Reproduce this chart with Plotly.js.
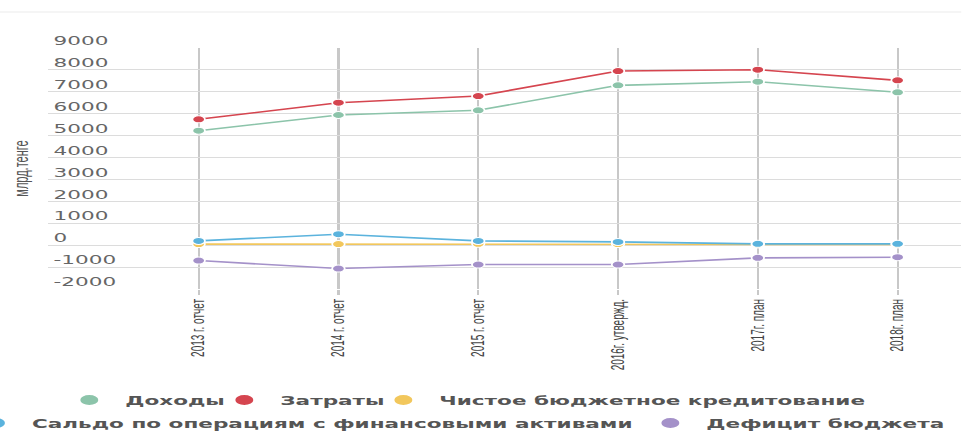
<!DOCTYPE html>
<html>
<head>
<meta charset="utf-8">
<script src="https://cdn.plot.ly/plotly-3.0.1.min.js"></script>
<style>
  html, body { margin: 0; padding: 0; background: #fff; overflow: hidden; }
  #wrap { width: 962px; height: 432px; overflow: hidden; position: relative; }
  #chart { position: absolute; left: -39.56px; top: 0; width: 557px; height: 432px;
           transform: scaleX(1.798); transform-origin: 0 0; }
</style>
</head>
<body>
<div id="wrap"><div id="chart"></div></div>
<script>
// ---- data ----
const categories = ["2013 г. отчет", "2014 г. отчет", "2015 г. отчет", "2016г. утвержд.", "2017г. план", "2018г. план"];
const incomes   = [5226, 5942, 6156, 7296, 7460, 6977];     // Доходы
const expenses  = [5745, 6503, 6808, 7948, 8008, 7524];     // Затраты
const lending   = [50, 50, 60, 50, 30, 30];                 // Чистое бюджетное кредитование
const finAssets = [196, 500, 196, 150, 60, 60];             // Сальдо по операциям с финансовыми активами
const deficit   = [-701, -1066, -883, -883, -579, -548];    // Дефицит бюджета

const seriesNames = ["Доходы", "Затраты", "Чистое бюджетное кредитование",
                     "Сальдо по операциям с финансовыми активами", "Дефицит бюджета"];
const seriesColors = ["#8cc4aa", "#d5454f", "#f2c75c", "#5bb3dd", "#a491c9"];
const seriesLegend = ["legend", "legend2", "legend3", "legend4", "legend5"];
const seriesValues = [incomes, expenses, lending, finAssets, deficit];

const yTickVals = [-2000, -1000, 0, 1000, 2000, 3000, 4000, 5000, 6000, 7000, 8000, 9000];
const yTickText = ["-2000", "-1000", "0", "1000", "2000", "3000", "4000", "5000", "6000", "7000", "8000", "9000"];

// ---- traces ----
const traces = [];
seriesValues.forEach((vals, i) => {
  traces.push({
    type: "scatter", mode: "lines", x: categories, y: vals,
    line: { color: seriesColors[i], width: 1.6 },
    showlegend: false, hoverinfo: "skip", legendgroup: "g" + i
  });
});
seriesValues.forEach((vals, i) => {
  traces.push({
    type: "scatter", mode: "markers", x: categories, y: vals,
    name: seriesNames[i],
    legend: seriesLegend[i], legendgroup: "g" + i,
    marker: { color: seriesColors[i], size: 7, line: { color: "#ffffff", width: 1 } }
  });
});

const legendFont = { family: "DejaVu Sans, sans-serif", size: 12, color: "#555", weight: "bold" };
function legendAt(x, y) {
  return {
    orientation: "h", xref: "container", yref: "container",
    x: x, xanchor: "left", y: y, yanchor: "middle",
    font: legendFont, itemsizing: "constant", bgcolor: "rgba(0,0,0,0)", itemwidth: 30
  };
}

const layout = {
  width: 557, height: 432,
  margin: { l: 49, r: 0, t: 48, b: 143 },
  paper_bgcolor: "#ffffff", plot_bgcolor: "#ffffff",
  xaxis: {
    type: "category",
    range: [-1.077, 5.457],
    showgrid: true, gridcolor: "#c8c8c8", gridwidth: 1.2,
    ticks: "outside", ticklen: 5, tickcolor: "#c8c8c8", tickwidth: 1.2,
    tickangle: -90,
    tickfont: { family: "Liberation Sans, Arial, sans-serif", size: 10, color: "#444" },
    showline: false, zeroline: false, fixedrange: true
  },
  yaxis: {
    range: [-2000, 9000],
    tickvals: yTickVals, ticktext: yTickText,
    showgrid: true, gridcolor: "#dcdcdc", gridwidth: 1,
    zeroline: false, showline: false, ticks: "",
    ticklabelposition: "inside", ticklabelshift: -7, ticklabelstandoff: 0,
    ticklabeloverflow: "allow",
    tickfont: { family: "DejaVu Sans, sans-serif", size: 12, color: "#666" },
    title: { text: "млрд.тенге", standoff: 11,
             font: { family: "Liberation Sans, Arial, sans-serif", size: 11, color: "#555" } },
    automargin: false, fixedrange: true
  },
  legend:  legendAt(0.0932, 0.074),
  legend2: legendAt(0.2480, 0.074),
  legend3: legendAt(0.4068, 0.074),
  legend4: legendAt(0.0, 0.021),
  legend5: legendAt(0.6734, 0.021),
  shapes: [{
    type: "line", xref: "paper", yref: "paper",
    x0: -0.1, x1: 1, y0: 1.149, y1: 1.149,
    line: { color: "#ececec", width: 1 }
  }]
};

Plotly.newPlot("chart", traces, layout, { displayModeBar: false, staticPlot: true });
</script>
</body>
</html>
